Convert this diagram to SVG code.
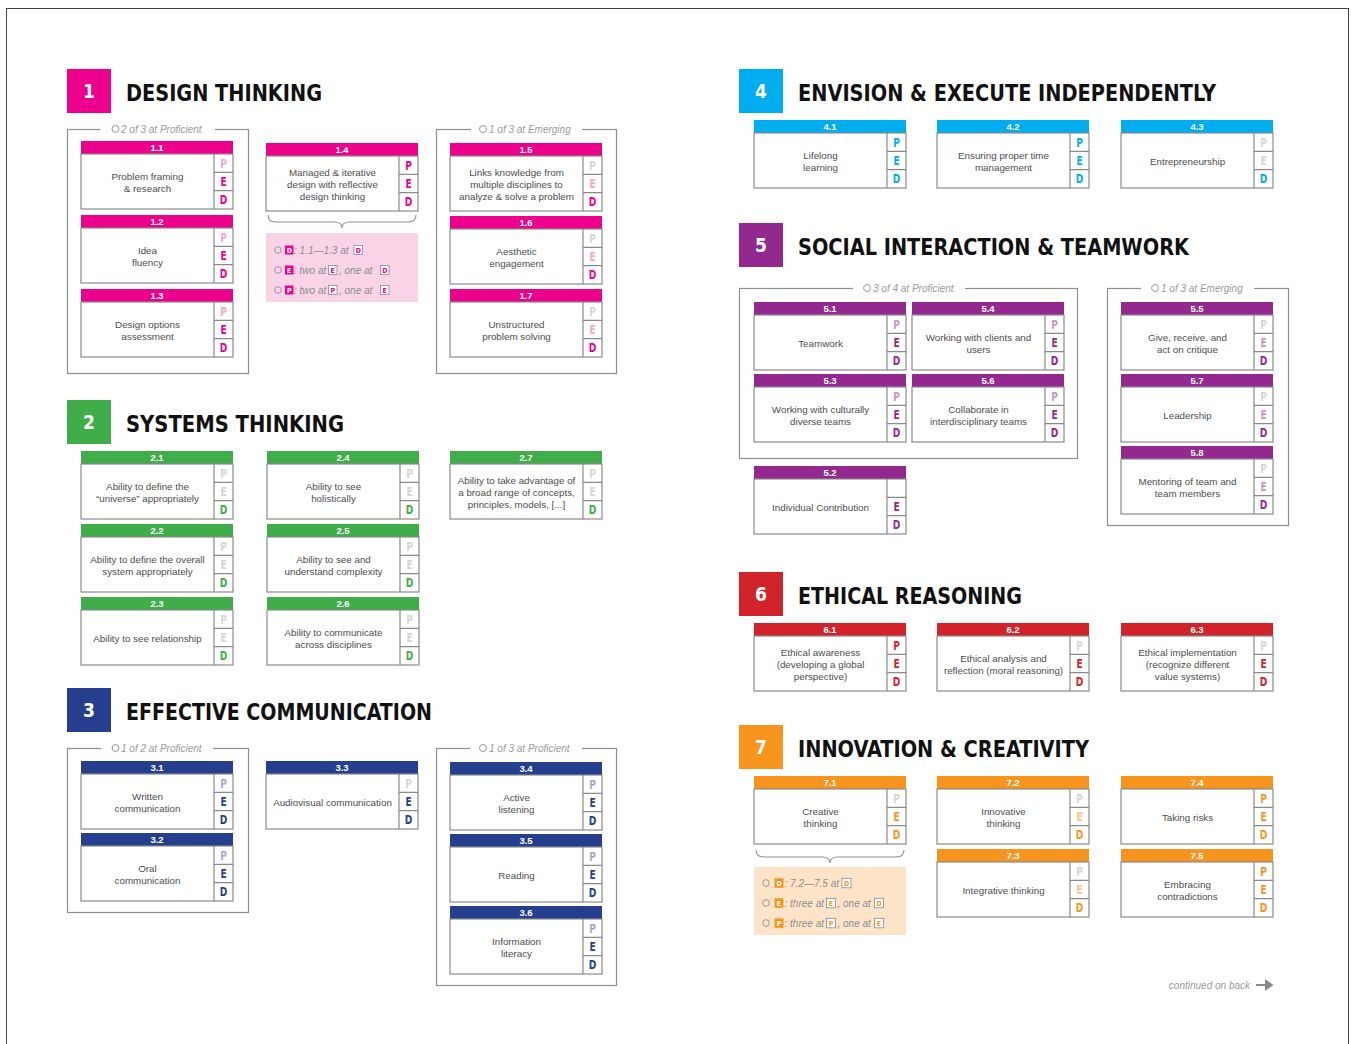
<svg xmlns="http://www.w3.org/2000/svg" width="1351" height="1044" viewBox="0 0 1351 1044">
<style>
.s1{--c:#ec008c;--t:#f7a6cf}
.s2{--c:#3fae49;--t:#a9dcae}
.s3{--c:#253f8e;--t:#a2aad2}
.s4{--c:#00aeef;--t:#99dff9}
.s5{--c:#93288e;--t:#cc95c8}
.s6{--c:#d2232a;--t:#eda7aa}
.s7{--c:#f7941d;--t:#fbc68c}
.num{font-family:'Liberation Sans',Arial,sans-serif;font-weight:700;font-size:9.5px;fill:#fff;text-anchor:middle}
.pl{font-family:'DejaVu Sans Condensed','DejaVu Sans',sans-serif;font-weight:700;font-size:13px;text-anchor:middle;transform-box:fill-box;transform-origin:center;transform:scaleX(.78)}
.f{fill:var(--c)}.t{fill:var(--t)}.g{fill:#d6d6d6}
.lb{font-family:'Liberation Sans',Arial,sans-serif;font-size:9.8px;fill:#4d4d4d;text-anchor:middle}
.hn{font-family:'DejaVu Sans Condensed','DejaVu Sans',sans-serif;font-weight:700;font-size:19px;fill:#fff;text-anchor:middle}
.ht{font-family:'DejaVu Sans Condensed','DejaVu Sans',sans-serif;font-weight:700;font-size:23.5px;fill:#111}
.gb{fill:none;stroke:#8f8f8f;stroke-width:1.2}
.gap{fill:#fff}
.gl{font-family:'Liberation Sans',Arial,sans-serif;font-style:italic;font-size:10px;fill:#9a9a9a}
.gc{fill:none;stroke:#9a9a9a;stroke-width:1}
.lt{font-family:'Liberation Sans',Arial,sans-serif;font-style:italic;font-size:10px;fill:#8e8e8e}
.sq{fill:var(--c)}
.sqo{fill:#fff;stroke:#8a8a8a;stroke-width:.8}
.sl{font-family:'DejaVu Sans Condensed','DejaVu Sans',sans-serif;font-weight:700;font-size:7px;text-anchor:middle}
.br{fill:none;stroke:#8f8f8f;stroke-width:1.1}
</style>
<defs>
<g id="cf">
<rect width="152" height="13" style="fill:var(--c)"/>
<rect y="13" width="152" height="55" fill="#fff" stroke="#8a8a8a" stroke-width="1.2"/>
<path d="M133 13V68M133 31.3H152M133 49.7H152" fill="none" stroke="#8a8a8a" stroke-width="1.2"/>
</g>
</defs>
<rect width="1351" height="1044" fill="#fff"/>
<rect x="6.5" y="8.5" width="1342" height="1050" fill="none" stroke="#444" stroke-width="1"/>

<!-- headings -->
<g id="h1"><rect x="67" y="69" width="44" height="44" fill="#ec008c"/><text class="hn" x="89" y="98">1</text><text class="ht" x="126" y="101" textLength="196" lengthAdjust="spacingAndGlyphs">DESIGN THINKING</text></g>
<g id="h2"><rect x="67" y="400" width="44" height="44" fill="#3fae49"/><text class="hn" x="89" y="429">2</text><text class="ht" x="126" y="432" textLength="218" lengthAdjust="spacingAndGlyphs">SYSTEMS THINKING</text></g>
<g id="h3"><rect x="67" y="688" width="44" height="44" fill="#253f8e"/><text class="hn" x="89" y="717">3</text><text class="ht" x="126" y="720" textLength="306" lengthAdjust="spacingAndGlyphs">EFFECTIVE COMMUNICATION</text></g>
<g id="h4"><rect x="739" y="69" width="44" height="44" fill="#00aeef"/><text class="hn" x="761" y="98">4</text><text class="ht" x="798" y="101" textLength="418" lengthAdjust="spacingAndGlyphs">ENVISION &amp; EXECUTE INDEPENDENTLY</text></g>
<g id="h5"><rect x="739" y="223" width="44" height="44" fill="#93288e"/><text class="hn" x="761" y="252">5</text><text class="ht" x="798" y="255" textLength="391" lengthAdjust="spacingAndGlyphs">SOCIAL INTERACTION &amp; TEAMWORK</text></g>
<g id="h6"><rect x="739" y="572" width="44" height="44" fill="#d2232a"/><text class="hn" x="761" y="601">6</text><text class="ht" x="798" y="604" textLength="224" lengthAdjust="spacingAndGlyphs">ETHICAL REASONING</text></g>
<g id="h7"><rect x="739" y="725" width="44" height="44" fill="#f7941d"/><text class="hn" x="761" y="754">7</text><text class="ht" x="798" y="757" textLength="291" lengthAdjust="spacingAndGlyphs">INNOVATION &amp; CREATIVITY</text></g>

<!-- group boxes -->
<g id="box1a"><rect class="gb" x="67.5" y="129.5" width="181" height="244"/><rect class="gap" x="100" y="125" width="115" height="9"/><circle class="gc" cx="115.5" cy="129" r="3.5"/><text class="gl" x="121" y="132.5">2 of 3 at Proficient</text></g>
<g id="box1b"><rect class="gb" x="436.5" y="129.5" width="180" height="244"/><rect class="gap" x="471" y="125" width="111" height="9"/><circle class="gc" cx="483" cy="129" r="3.5"/><text class="gl" x="489" y="132.5">1 of 3 at Emerging</text></g>
<g id="box3a"><rect class="gb" x="67.5" y="748.5" width="181" height="164"/><rect class="gap" x="101" y="744" width="112" height="9"/><circle class="gc" cx="115.5" cy="748" r="3.5"/><text class="gl" x="121" y="751.5">1 of 2 at Proficient</text></g>
<g id="box3b"><rect class="gb" x="436.5" y="748.5" width="180" height="237"/><rect class="gap" x="470" y="744" width="112" height="9"/><circle class="gc" cx="483" cy="748" r="3.5"/><text class="gl" x="489" y="751.5">1 of 3 at Proficient</text></g>
<g id="box5a"><rect class="gb" x="739.5" y="288.5" width="338" height="170"/><rect class="gap" x="853" y="284" width="112" height="9"/><circle class="gc" cx="867" cy="288" r="3.5"/><text class="gl" x="873" y="291.5">3 of 4 at Proficient</text></g>
<g id="box5b"><rect class="gb" x="1107.5" y="288.5" width="181" height="237"/><rect class="gap" x="1141" y="284" width="113" height="9"/><circle class="gc" cx="1155" cy="288" r="3.5"/><text class="gl" x="1161" y="291.5">1 of 3 at Emerging</text></g>

<!-- section 1 -->
<g id="n1-1" class="s1" transform="translate(81,141)"><use href="#cf"/><text class="num" x="76" y="10.3">1.1</text><text class="pl t" x="142.5" y="26.7">P</text><text class="pl f" x="142.5" y="45">E</text><text class="pl f" x="142.5" y="63.3">D</text><text class="lb"><tspan x="66.5" y="38.5">Problem framing</tspan><tspan x="66.5" y="50.5">&amp; research</tspan></text></g>
<g id="n1-2" class="s1" transform="translate(81,215)"><use href="#cf"/><text class="num" x="76" y="10.3">1.2</text><text class="pl t" x="142.5" y="26.7">P</text><text class="pl f" x="142.5" y="45">E</text><text class="pl f" x="142.5" y="63.3">D</text><text class="lb"><tspan x="66.5" y="38.5">Idea</tspan><tspan x="66.5" y="50.5">fluency</tspan></text></g>
<g id="n1-3" class="s1" transform="translate(81,289)"><use href="#cf"/><text class="num" x="76" y="10.3">1.3</text><text class="pl t" x="142.5" y="26.7">P</text><text class="pl f" x="142.5" y="45">E</text><text class="pl f" x="142.5" y="63.3">D</text><text class="lb"><tspan x="66.5" y="38.5">Design options</tspan><tspan x="66.5" y="50.5">assessment</tspan></text></g>
<g id="n1-4" class="s1" transform="translate(266,143)"><use href="#cf"/><text class="num" x="76" y="10.3">1.4</text><text class="pl f" x="142.5" y="26.7">P</text><text class="pl f" x="142.5" y="45">E</text><text class="pl f" x="142.5" y="63.3">D</text><text class="lb"><tspan x="66.5" y="32.5">Managed &amp; iterative</tspan><tspan x="66.5" y="44.5">design with reflective</tspan><tspan x="66.5" y="56.5">design thinking</tspan></text></g>
<g id="n1-5" class="s1" transform="translate(450,143)"><use href="#cf"/><text class="num" x="76" y="10.3">1.5</text><text class="pl g" x="142.5" y="26.7">P</text><text class="pl t" x="142.5" y="45">E</text><text class="pl f" x="142.5" y="63.3">D</text><text class="lb"><tspan x="66.5" y="32.5">Links knowledge from</tspan><tspan x="66.5" y="44.5">multiple disciplines to</tspan><tspan x="66.5" y="56.5">analyze &amp; solve a problem</tspan></text></g>
<g id="n1-6" class="s1" transform="translate(450,216)"><use href="#cf"/><text class="num" x="76" y="10.3">1.6</text><text class="pl g" x="142.5" y="26.7">P</text><text class="pl t" x="142.5" y="45">E</text><text class="pl f" x="142.5" y="63.3">D</text><text class="lb"><tspan x="66.5" y="38.5">Aesthetic</tspan><tspan x="66.5" y="50.5">engagement</tspan></text></g>
<g id="n1-7" class="s1" transform="translate(450,289)"><use href="#cf"/><text class="num" x="76" y="10.3">1.7</text><text class="pl g" x="142.5" y="26.7">P</text><text class="pl t" x="142.5" y="45">E</text><text class="pl f" x="142.5" y="63.3">D</text><text class="lb"><tspan x="66.5" y="38.5">Unstructured</tspan><tspan x="66.5" y="50.5">problem solving</tspan></text></g>

<g id="legend1" class="s1">
<rect x="266" y="233" width="152" height="69" fill="#f9d3e6"/>
<circle class="gc" cx="278" cy="250" r="3.3"/><rect class="sq" x="285" y="245.5" width="8.5" height="9"/><text class="sl" x="289.25" y="252.6" fill="#fff">D</text><text class="lt" x="294" y="253.5">: 1.1—1.3 at</text><rect class="sqo" x="354" y="245.5" width="8.5" height="9"/><text class="sl f" x="358.25" y="252.6">D</text>
<circle class="gc" cx="278" cy="270" r="3.3"/><rect class="sq" x="285" y="265.5" width="8.5" height="9"/><text class="sl" x="289.25" y="272.6" fill="#fff">E</text><text class="lt" x="294" y="273.5">: two at</text><rect class="sqo" x="328.5" y="265.5" width="8.5" height="9"/><text class="sl f" x="332.75" y="272.6">E</text><text class="lt" x="339" y="273.5">, one at</text><rect class="sqo" x="380.5" y="265.5" width="8.5" height="9"/><text class="sl f" x="384.75" y="272.6">D</text>
<circle class="gc" cx="278" cy="290" r="3.3"/><rect class="sq" x="285" y="285.5" width="8.5" height="9"/><text class="sl" x="289.25" y="292.6" fill="#fff">P</text><text class="lt" x="294" y="293.5">: two at</text><rect class="sqo" x="328.5" y="285.5" width="8.5" height="9"/><text class="sl f" x="332.75" y="292.6">P</text><text class="lt" x="339" y="293.5">, one at</text><rect class="sqo" x="380.5" y="285.5" width="8.5" height="9"/><text class="sl f" x="384.75" y="292.6">E</text>
</g>

<!-- section 2 -->
<g id="n2-1" class="s2" transform="translate(81,451)"><use href="#cf"/><text class="num" x="76" y="10.3">2.1</text><text class="pl g" x="142.5" y="26.7">P</text><text class="pl g" x="142.5" y="45">E</text><text class="pl f" x="142.5" y="63.3">D</text><text class="lb"><tspan x="66.5" y="38.5">Ability to define the</tspan><tspan x="66.5" y="50.5">“universe” appropriately</tspan></text></g>
<g id="n2-2" class="s2" transform="translate(81,524)"><use href="#cf"/><text class="num" x="76" y="10.3">2.2</text><text class="pl g" x="142.5" y="26.7">P</text><text class="pl g" x="142.5" y="45">E</text><text class="pl f" x="142.5" y="63.3">D</text><text class="lb"><tspan x="66.5" y="38.5">Ability to define the overall</tspan><tspan x="66.5" y="50.5">system appropriately</tspan></text></g>
<g id="n2-3" class="s2" transform="translate(81,597)"><use href="#cf"/><text class="num" x="76" y="10.3">2.3</text><text class="pl g" x="142.5" y="26.7">P</text><text class="pl g" x="142.5" y="45">E</text><text class="pl f" x="142.5" y="63.3">D</text><text class="lb"><tspan x="66.5" y="44.5">Ability to see relationship</tspan></text></g>
<g id="n2-4" class="s2" transform="translate(267,451)"><use href="#cf"/><text class="num" x="76" y="10.3">2.4</text><text class="pl g" x="142.5" y="26.7">P</text><text class="pl g" x="142.5" y="45">E</text><text class="pl f" x="142.5" y="63.3">D</text><text class="lb"><tspan x="66.5" y="38.5">Ability to see</tspan><tspan x="66.5" y="50.5">holistically</tspan></text></g>
<g id="n2-5" class="s2" transform="translate(267,524)"><use href="#cf"/><text class="num" x="76" y="10.3">2.5</text><text class="pl g" x="142.5" y="26.7">P</text><text class="pl g" x="142.5" y="45">E</text><text class="pl f" x="142.5" y="63.3">D</text><text class="lb"><tspan x="66.5" y="38.5">Ability to see and</tspan><tspan x="66.5" y="50.5">understand complexity</tspan></text></g>
<g id="n2-6" class="s2" transform="translate(267,597)"><use href="#cf"/><text class="num" x="76" y="10.3">2.6</text><text class="pl g" x="142.5" y="26.7">P</text><text class="pl g" x="142.5" y="45">E</text><text class="pl f" x="142.5" y="63.3">D</text><text class="lb"><tspan x="66.5" y="38.5">Ability to communicate</tspan><tspan x="66.5" y="50.5">across disciplines</tspan></text></g>
<g id="n2-7" class="s2" transform="translate(450,451)"><use href="#cf"/><text class="num" x="76" y="10.3">2.7</text><text class="pl g" x="142.5" y="26.7">P</text><text class="pl g" x="142.5" y="45">E</text><text class="pl f" x="142.5" y="63.3">D</text><text class="lb"><tspan x="66.5" y="32.5">Ability to take advantage of</tspan><tspan x="66.5" y="44.5">a broad range of concepts,</tspan><tspan x="66.5" y="56.5">principles, models, [...]</tspan></text></g>

<!-- section 3 -->
<g id="n3-1" class="s3" transform="translate(81,761)"><use href="#cf"/><text class="num" x="76" y="10.3">3.1</text><text class="pl t" x="142.5" y="26.7">P</text><text class="pl f" x="142.5" y="45">E</text><text class="pl f" x="142.5" y="63.3">D</text><text class="lb"><tspan x="66.5" y="38.5">Written</tspan><tspan x="66.5" y="50.5">communication</tspan></text></g>
<g id="n3-2" class="s3" transform="translate(81,833)"><use href="#cf"/><text class="num" x="76" y="10.3">3.2</text><text class="pl t" x="142.5" y="26.7">P</text><text class="pl f" x="142.5" y="45">E</text><text class="pl f" x="142.5" y="63.3">D</text><text class="lb"><tspan x="66.5" y="38.5">Oral</tspan><tspan x="66.5" y="50.5">communication</tspan></text></g>
<g id="n3-3" class="s3" transform="translate(266,761)"><use href="#cf"/><text class="num" x="76" y="10.3">3.3</text><text class="pl g" x="142.5" y="26.7">P</text><text class="pl f" x="142.5" y="45">E</text><text class="pl f" x="142.5" y="63.3">D</text><text class="lb"><tspan x="66.5" y="44.5">Audiovisual communication</tspan></text></g>
<g id="n3-4" class="s3" transform="translate(450,762)"><use href="#cf"/><text class="num" x="76" y="10.3">3.4</text><text class="pl t" x="142.5" y="26.7">P</text><text class="pl f" x="142.5" y="45">E</text><text class="pl f" x="142.5" y="63.3">D</text><text class="lb"><tspan x="66.5" y="38.5">Active</tspan><tspan x="66.5" y="50.5">listening</tspan></text></g>
<g id="n3-5" class="s3" transform="translate(450,834)"><use href="#cf"/><text class="num" x="76" y="10.3">3.5</text><text class="pl t" x="142.5" y="26.7">P</text><text class="pl f" x="142.5" y="45">E</text><text class="pl f" x="142.5" y="63.3">D</text><text class="lb"><tspan x="66.5" y="44.5">Reading</tspan></text></g>
<g id="n3-6" class="s3" transform="translate(450,906)"><use href="#cf"/><text class="num" x="76" y="10.3">3.6</text><text class="pl t" x="142.5" y="26.7">P</text><text class="pl f" x="142.5" y="45">E</text><text class="pl f" x="142.5" y="63.3">D</text><text class="lb"><tspan x="66.5" y="38.5">Information</tspan><tspan x="66.5" y="50.5">literacy</tspan></text></g>

<!-- section 4 -->
<g id="n4-1" class="s4" transform="translate(754,120)"><use href="#cf"/><text class="num" x="76" y="10.3">4.1</text><text class="pl f" x="142.5" y="26.7">P</text><text class="pl f" x="142.5" y="45">E</text><text class="pl f" x="142.5" y="63.3">D</text><text class="lb"><tspan x="66.5" y="38.5">Lifelong</tspan><tspan x="66.5" y="50.5">learning</tspan></text></g>
<g id="n4-2" class="s4" transform="translate(937,120)"><use href="#cf"/><text class="num" x="76" y="10.3">4.2</text><text class="pl f" x="142.5" y="26.7">P</text><text class="pl f" x="142.5" y="45">E</text><text class="pl f" x="142.5" y="63.3">D</text><text class="lb"><tspan x="66.5" y="38.5">Ensuring proper time</tspan><tspan x="66.5" y="50.5">management</tspan></text></g>
<g id="n4-3" class="s4" transform="translate(1121,120)"><use href="#cf"/><text class="num" x="76" y="10.3">4.3</text><text class="pl g" x="142.5" y="26.7">P</text><text class="pl g" x="142.5" y="45">E</text><text class="pl f" x="142.5" y="63.3">D</text><text class="lb"><tspan x="66.5" y="44.5">Entrepreneurship</tspan></text></g>

<!-- section 5 -->
<g id="n5-1" class="s5" transform="translate(754,302)"><use href="#cf"/><text class="num" x="76" y="10.3">5.1</text><text class="pl t" x="142.5" y="26.7">P</text><text class="pl f" x="142.5" y="45">E</text><text class="pl f" x="142.5" y="63.3">D</text><text class="lb"><tspan x="66.5" y="44.5">Teamwork</tspan></text></g>
<g id="n5-4" class="s5" transform="translate(912,302)"><use href="#cf"/><text class="num" x="76" y="10.3">5.4</text><text class="pl t" x="142.5" y="26.7">P</text><text class="pl f" x="142.5" y="45">E</text><text class="pl f" x="142.5" y="63.3">D</text><text class="lb"><tspan x="66.5" y="38.5">Working with clients and</tspan><tspan x="66.5" y="50.5">users</tspan></text></g>
<g id="n5-3" class="s5" transform="translate(754,374)"><use href="#cf"/><text class="num" x="76" y="10.3">5.3</text><text class="pl t" x="142.5" y="26.7">P</text><text class="pl f" x="142.5" y="45">E</text><text class="pl f" x="142.5" y="63.3">D</text><text class="lb"><tspan x="66.5" y="38.5">Working with culturally</tspan><tspan x="66.5" y="50.5">diverse teams</tspan></text></g>
<g id="n5-6" class="s5" transform="translate(912,374)"><use href="#cf"/><text class="num" x="76" y="10.3">5.6</text><text class="pl t" x="142.5" y="26.7">P</text><text class="pl f" x="142.5" y="45">E</text><text class="pl f" x="142.5" y="63.3">D</text><text class="lb"><tspan x="66.5" y="38.5">Collaborate in</tspan><tspan x="66.5" y="50.5">interdisciplinary teams</tspan></text></g>
<g id="n5-2" class="s5" transform="translate(754,466)"><use href="#cf"/><text class="num" x="76" y="10.3">5.2</text><text class="pl f" x="142.5" y="45">E</text><text class="pl f" x="142.5" y="63.3">D</text><text class="lb"><tspan x="66.5" y="44.5">Individual Contribution</tspan></text></g>
<g id="n5-5" class="s5" transform="translate(1121,302)"><use href="#cf"/><text class="num" x="76" y="10.3">5.5</text><text class="pl g" x="142.5" y="26.7">P</text><text class="pl t" x="142.5" y="45">E</text><text class="pl f" x="142.5" y="63.3">D</text><text class="lb"><tspan x="66.5" y="38.5">Give, receive, and</tspan><tspan x="66.5" y="50.5">act on critique</tspan></text></g>
<g id="n5-7" class="s5" transform="translate(1121,374)"><use href="#cf"/><text class="num" x="76" y="10.3">5.7</text><text class="pl g" x="142.5" y="26.7">P</text><text class="pl t" x="142.5" y="45">E</text><text class="pl f" x="142.5" y="63.3">D</text><text class="lb"><tspan x="66.5" y="44.5">Leadership</tspan></text></g>
<g id="n5-8" class="s5" transform="translate(1121,446)"><use href="#cf"/><text class="num" x="76" y="10.3">5.8</text><text class="pl g" x="142.5" y="26.7">P</text><text class="pl t" x="142.5" y="45">E</text><text class="pl f" x="142.5" y="63.3">D</text><text class="lb"><tspan x="66.5" y="38.5">Mentoring of team and</tspan><tspan x="66.5" y="50.5">team members</tspan></text></g>

<!-- section 6 -->
<g id="n6-1" class="s6" transform="translate(754,623)"><use href="#cf"/><text class="num" x="76" y="10.3">6.1</text><text class="pl f" x="142.5" y="26.7">P</text><text class="pl f" x="142.5" y="45">E</text><text class="pl f" x="142.5" y="63.3">D</text><text class="lb"><tspan x="66.5" y="32.5">Ethical awareness</tspan><tspan x="66.5" y="44.5">(developing a global</tspan><tspan x="66.5" y="56.5">perspective)</tspan></text></g>
<g id="n6-2" class="s6" transform="translate(937,623)"><use href="#cf"/><text class="num" x="76" y="10.3">6.2</text><text class="pl g" x="142.5" y="26.7">P</text><text class="pl f" x="142.5" y="45">E</text><text class="pl f" x="142.5" y="63.3">D</text><text class="lb"><tspan x="66.5" y="38.5">Ethical analysis and</tspan><tspan x="66.5" y="50.5">reflection (moral reasoning)</tspan></text></g>
<g id="n6-3" class="s6" transform="translate(1121,623)"><use href="#cf"/><text class="num" x="76" y="10.3">6.3</text><text class="pl g" x="142.5" y="26.7">P</text><text class="pl f" x="142.5" y="45">E</text><text class="pl f" x="142.5" y="63.3">D</text><text class="lb"><tspan x="66.5" y="32.5">Ethical implementation</tspan><tspan x="66.5" y="44.5">(recognize different</tspan><tspan x="66.5" y="56.5">value systems)</tspan></text></g>

<!-- section 7 -->
<g id="n7-1" class="s7" transform="translate(754,776)"><use href="#cf"/><text class="num" x="76" y="10.3">7.1</text><text class="pl g" x="142.5" y="26.7">P</text><text class="pl f" x="142.5" y="45">E</text><text class="pl f" x="142.5" y="63.3">D</text><text class="lb"><tspan x="66.5" y="38.5">Creative</tspan><tspan x="66.5" y="50.5">thinking</tspan></text></g>
<g id="n7-2" class="s7" transform="translate(937,776)"><use href="#cf"/><text class="num" x="76" y="10.3">7.2</text><text class="pl g" x="142.5" y="26.7">P</text><text class="pl t" x="142.5" y="45">E</text><text class="pl f" x="142.5" y="63.3">D</text><text class="lb"><tspan x="66.5" y="38.5">Innovative</tspan><tspan x="66.5" y="50.5">thinking</tspan></text></g>
<g id="n7-3" class="s7" transform="translate(937,849)"><use href="#cf"/><text class="num" x="76" y="10.3">7.3</text><text class="pl g" x="142.5" y="26.7">P</text><text class="pl t" x="142.5" y="45">E</text><text class="pl f" x="142.5" y="63.3">D</text><text class="lb"><tspan x="66.5" y="44.5">Integrative thinking</tspan></text></g>
<g id="n7-4" class="s7" transform="translate(1121,776)"><use href="#cf"/><text class="num" x="76" y="10.3">7.4</text><text class="pl f" x="142.5" y="26.7">P</text><text class="pl f" x="142.5" y="45">E</text><text class="pl f" x="142.5" y="63.3">D</text><text class="lb"><tspan x="66.5" y="44.5">Taking risks</tspan></text></g>
<g id="n7-5" class="s7" transform="translate(1121,849)"><use href="#cf"/><text class="num" x="76" y="10.3">7.5</text><text class="pl f" x="142.5" y="26.7">P</text><text class="pl f" x="142.5" y="45">E</text><text class="pl f" x="142.5" y="63.3">D</text><text class="lb"><tspan x="66.5" y="38.5">Embracing</tspan><tspan x="66.5" y="50.5">contradictions</tspan></text></g>

<g id="legend7" class="s7">
<rect x="754" y="867" width="152" height="68" fill="#fde3c8"/>
<circle class="gc" cx="766" cy="883" r="3.3"/><rect class="sq" x="774.5" y="878.3" width="9" height="9.5"/><text class="sl" x="779" y="885.6" fill="#fff">D</text><text class="lt" x="784.5" y="886.5">: 7.2—7.5 at</text><rect class="sqo" x="842" y="878.3" width="9" height="9.5"/><text class="sl f" x="846.5" y="885.6">D</text>
<circle class="gc" cx="766" cy="903" r="3.3"/><rect class="sq" x="774.5" y="898.3" width="9" height="9.5"/><text class="sl" x="779" y="905.6" fill="#fff">E</text><text class="lt" x="784.5" y="906.5">: three at</text><rect class="sqo" x="826.5" y="898.3" width="9" height="9.5"/><text class="sl f" x="831" y="905.6">E</text><text class="lt" x="837.5" y="906.5">, one at</text><rect class="sqo" x="874.5" y="898.3" width="9" height="9.5"/><text class="sl f" x="879" y="905.6">D</text>
<circle class="gc" cx="766" cy="923" r="3.3"/><rect class="sq" x="774.5" y="918.3" width="9" height="9.5"/><text class="sl" x="779" y="925.6" fill="#fff">P</text><text class="lt" x="784.5" y="926.5">: three at</text><rect class="sqo" x="826.5" y="918.3" width="9" height="9.5"/><text class="sl f" x="831" y="925.6">P</text><text class="lt" x="837.5" y="926.5">, one at</text><rect class="sqo" x="874.5" y="918.3" width="9" height="9.5"/><text class="sl f" x="879" y="925.6">E</text>
</g>

<!-- connectors -->
<g id="connectors">
<path class="br" d="M268 215c0 5 3 7 8 7h58c5 0 8 2 8 6c0-4 3-6 8-6h58c5 0 8-2 8-7"/>
<path class="br" d="M756 850c0 5 3 7 8 7h58c5 0 8 2 8 6c0-4 3-6 8-6h58c5 0 8-2 8-7"/>
<path d="M1256 985H1267" fill="none" stroke="#8a8a8a" stroke-width="2"/>
<path d="M1265 979L1273.5 985L1265 991Z" fill="#8a8a8a"/>
</g>
<text class="gl" x="1250" y="988.5" text-anchor="end">continued on back</text>
</svg>
